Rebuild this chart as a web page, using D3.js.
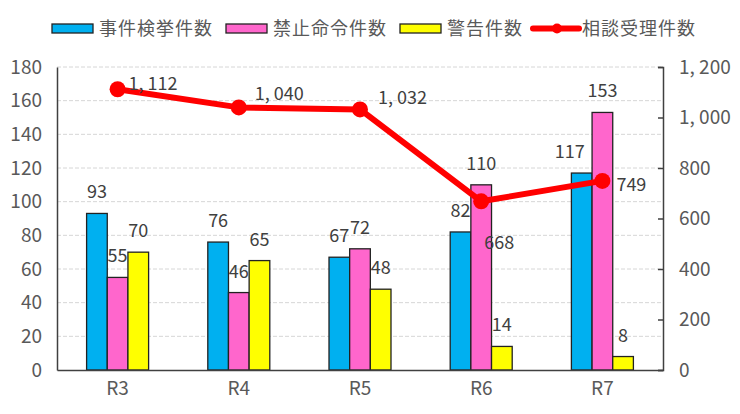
<!DOCTYPE html>
<html>
<head>
<meta charset="utf-8">
<script src="https://cdn.jsdelivr.net/npm/d3@7"></script>
<style>
	body { margin: 0; background: #fff; }
	text { font-family: "Noto Sans CJK JP", sans-serif; }
</style>
</head>
<body>
<div id="graphic"></div>
<script>
// data
const categories = ['R3', 'R4', 'R5', 'R6', 'R7'];
const arrests = [93, 76, 67, 82, 117];      // 事件検挙件数
const orders = [55, 46, 72, 110, 153];      // 禁止命令件数
const warnings = [70, 65, 48, 14, 8];       // 警告件数
const consults = [1112, 1040, 1032, 668, 749]; // 相談受理件数
const leftTicks = [0, 20, 40, 60, 80, 100, 120, 140, 160, 180];
const rightTicks = [0, 200, 400, 600, 800, 1000, 1200];

const barSeries = [
	{ name: '事件検挙件数', values: arrests, colour: '#00B0F0' },
	{ name: '禁止命令件数', values: orders, colour: '#FF66CC' },
	{ name: '警告件数', values: warnings, colour: '#FFFF00' }
];

const width = 740, height = 414;
const margin = { top: 67, right: 77, bottom: 44, left: 57 };
const chart_width = width - margin.left - margin.right;
const chart_height = height - margin.top - margin.bottom;

// japanese style thousands separator, looks like "1, 112"
const fmt = (d) => d3.format(',')(d).replace(',', ', ');

let svg = d3.select('#graphic')
	.append('svg')
	.attr('width', width)
	.attr('height', height)
	.append('g')
	.attr('transform', 'translate(' + margin.left + ',' + margin.top + ')');

const x = d3.scaleBand().domain(categories).range([0, chart_width]);
const xInner = d3.scaleBand().domain([0, 1, 2]).range([0, 62]);
const y = d3.scaleLinear().domain([0, 180]).range([chart_height, 0]);
const y2 = d3.scaleLinear().domain([0, 1200]).range([chart_height, 0]);

// gridlines
svg.append('g')
	.selectAll('line')
	.data(leftTicks.filter((d) => d > 0))
	.join('line')
	.attr('x1', 0)
	.attr('x2', chart_width)
	.attr('y1', (d) => y(d))
	.attr('y2', (d) => y(d))
	.attr('stroke', '#d6d6d6')
	.attr('stroke-dasharray', '4,2');

// left axis
let yAxis = d3.axisLeft(y).tickValues(leftTicks).tickSize(0).tickPadding(15);
svg.append('g').call(yAxis)
	.call((g) => g.select('.domain').attr('stroke', '#404040').attr('stroke-width', 1.5))
	.selectAll('text')
	.attr('fill', '#595959')
	.style('font-size', '19px');

// right axis
let yAxis2 = d3.axisRight(y2).tickValues(rightTicks).tickSize(-5).tickPadding(16).tickFormat(fmt);
svg.append('g')
	.attr('transform', 'translate(' + chart_width + ',0)')
	.call(yAxis2)
	.call((g) => g.select('.domain').attr('stroke', '#404040').attr('stroke-width', 1.5))
	.call((g) => g.selectAll('.tick line').attr('stroke', '#404040').attr('stroke-width', 1.5))
	.selectAll('text')
	.attr('fill', '#595959')
	.style('font-size', '19px');

// bars
const groups = svg.append('g')
	.selectAll('g')
	.data(categories)
	.join('g')
	.attr('transform', (d) => 'translate(' + (x(d) + (x.bandwidth() - 62) / 2) + ',0)');

// a couple of labels are nudged sideways in the original to dodge the next bar
const nudge = { 'R7-0': -12 };

groups.each(function (cat, ci) {
	const g = d3.select(this);
	barSeries.forEach((s, si) => {
		const v = s.values[ci];
		g.append('rect')
			.attr('x', xInner(si))
			.attr('y', y(v))
			.attr('width', xInner.bandwidth())
			.attr('height', chart_height - y(v))
			.attr('fill', s.colour)
			.attr('stroke', '#222')
			.attr('stroke-width', 1.3);
		g.append('text')
			.attr('x', xInner(si) + xInner.bandwidth() / 2 + (nudge[cat + '-' + si] || 0))
			.attr('y', y(v) - 15)
			.attr('text-anchor', 'middle')
			.attr('fill', '#404040')
			.style('font-size', '18px')
			.text(v);
	});
});

// x axis
let xAxis = d3.axisBottom(x).tickSize(0).tickPadding(12);
svg.append('g')
	.attr('transform', 'translate(0,' + chart_height + ')')
	.call(xAxis)
	.call((g) => g.select('.domain').attr('stroke', '#404040').attr('stroke-width', 1.5))
	.selectAll('text')
	.attr('fill', '#595959')
	.style('font-size', '19px');

// line
const cx = (d, i) => x(categories[i]) + x.bandwidth() / 2;
svg.append('path')
	.datum(consults)
	.attr('fill', 'none')
	.attr('stroke', '#FF0000')
	.attr('stroke-width', 6)
	.attr('stroke-linejoin', 'round')
	.attr('d', d3.line().x(cx).y((d) => y2(d)));

svg.selectAll('circle.pt')
	.data(consults)
	.join('circle')
	.attr('class', 'pt')
	.attr('cx', cx)
	.attr('cy', (d) => y2(d))
	.attr('r', 8)
	.attr('fill', '#FF0000');

// line labels: offsets per point like the original
const lineLabelOffset = [[11, 1], [16, -7], [18, -5], [3, 48], [14, 10]];
svg.selectAll('text.lineLabel')
	.data(consults)
	.join('text')
	.attr('class', 'lineLabel')
	.attr('x', (d, i) => cx(d, i) + lineLabelOffset[i][0])
	.attr('y', (d, i) => y2(d) + lineLabelOffset[i][1])
	.attr('fill', '#404040')
	.style('font-size', '18px')
	.text(fmt);

// legend
const legend = d3.select('svg').append('g').attr('transform', 'translate(0,28.5)');
const legendItems = [
	{ name: barSeries[0].name, colour: barSeries[0].colour, x: 52, type: 'box' },
	{ name: barSeries[1].name, colour: barSeries[1].colour, x: 226, type: 'box' },
	{ name: barSeries[2].name, colour: barSeries[2].colour, x: 400, type: 'box' },
	{ name: '相談受理件数', colour: '#FF0000', x: 533, type: 'line' }
];
legendItems.forEach((it) => {
	const g = legend.append('g').attr('transform', 'translate(' + it.x + ',0)');
	if (it.type === 'box') {
		g.append('rect')
			.attr('x', 0).attr('y', -4.5).attr('width', 41).attr('height', 9)
			.attr('fill', it.colour).attr('stroke', '#222').attr('stroke-width', 1.3);
	} else {
		g.append('line')
			.attr('x1', 0).attr('x2', 46).attr('y1', 0).attr('y2', 0)
			.attr('stroke', it.colour).attr('stroke-width', 6).attr('stroke-linecap', 'round');
		g.append('circle').attr('cx', 24).attr('cy', 0).attr('r', 5).attr('fill', it.colour);
	}
	g.append('text')
		.attr('x', it.type === 'box' ? 47 : 49)
		.attr('y', 0)
		.attr('dy', '0.35em')
		.attr('fill', '#595959')
		.style('font-size', '18px')
		.style('letter-spacing', '1px')
		.text(it.name);
});
</script>
</body>
</html>
